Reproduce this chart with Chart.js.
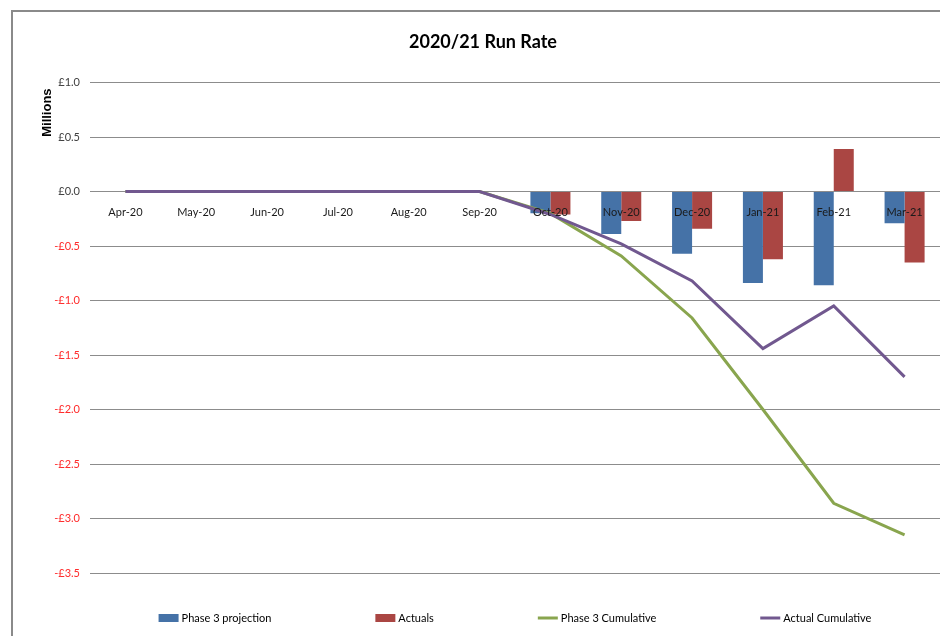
<!DOCTYPE html>
<html>
<head>
<meta charset="utf-8">
<title>2020/21 Run Rate</title>
<script src="https://cdn.jsdelivr.net/npm/chart.js@4/dist/chart.umd.min.js"></script>
<style>
  html, body { margin: 0; padding: 0; background: #fff; }
  #wrap { width: 940px; height: 636px; }
</style>
</head>
<body>
<div id="wrap"><canvas id="runRateChart" width="940" height="636"></canvas></div>
<script>
// Months of the financial year
const months = ['Apr-20', 'May-20', 'Jun-20', 'Jul-20', 'Aug-20', 'Sep-20',
                'Oct-20', 'Nov-20', 'Dec-20', 'Jan-21', 'Feb-21', 'Mar-21'];

// Monthly figures (£ millions)
const phase3Projection = [0, 0, 0, 0, 0, 0, -0.20, -0.39, -0.57, -0.84, -0.86, -0.29];
const actuals          = [0, 0, 0, 0, 0, 0, -0.21, -0.27, -0.34, -0.62, 0.39, -0.65];

// Running totals (£ millions)
const phase3Cumulative = [0, 0, 0, 0, 0, 0, -0.20, -0.59, -1.16, -2.00, -2.86, -3.15];
const actualCumulative = [0, 0, 0, 0, 0, 0, -0.21, -0.48, -0.82, -1.44, -1.05, -1.70];

// Y axis range
const yMin = -3.5;
const yMax = 1.0;
const yStep = 0.5;

const FONT = "Lato, 'Liberation Sans', sans-serif";

// Outer frame (only top and left edges are visible)
const framePlugin = {
  id: 'frame',
  beforeDraw(chart) {
    const ctx = chart.ctx;
    ctx.save();
    ctx.strokeStyle = '#8a8a8a';
    ctx.lineWidth = 2;
    ctx.beginPath();
    ctx.moveTo(12, chart.height);
    ctx.lineTo(12, 11);
    ctx.lineTo(chart.width, 11);
    ctx.stroke();
    ctx.restore();
  }
};

// "Millions" display-unit label next to the top of the value axis
const unitsPlugin = {
  id: 'units',
  afterDraw(chart) {
    const ctx = chart.ctx;
    const area = chart.chartArea;
    ctx.save();
    ctx.translate(area.left - 43, area.top + 30);
    ctx.rotate(-Math.PI / 2);
    ctx.font = "bold 13px 'Liberation Sans', Arial, sans-serif";
    ctx.fillStyle = '#000';
    ctx.textAlign = 'center';
    ctx.textBaseline = 'middle';
    ctx.fillText('Millions', 0, 0);
    ctx.restore();
  }
};

// Legend row under the plot, entries spread out like a spreadsheet legend
const legendRowPlugin = {
  id: 'legendRow',
  afterDraw(chart, args, opts) {
    const ctx = chart.ctx;
    const area = chart.chartArea;
    const gap = opts.gap;
    const swatch = 20;
    ctx.save();
    ctx.font = opts.font;
    ctx.textBaseline = 'middle';
    ctx.textAlign = 'left';
    const items = chart.data.datasets.map((ds) => ({
      ds,
      width: swatch + 3 + ctx.measureText(ds.label).width
    }));
    const total = items.reduce((s, it) => s + it.width, 0) + gap * (items.length - 1);
    let x = (area.left + area.right) / 2 - total / 2;
    const y = opts.y;
    items.forEach((it) => {
      if (it.ds.type === 'line') {
        ctx.strokeStyle = it.ds.borderColor;
        ctx.lineWidth = 3;
        ctx.beginPath();
        ctx.moveTo(x, y);
        ctx.lineTo(x + swatch, y);
        ctx.stroke();
      } else {
        ctx.fillStyle = it.ds.backgroundColor;
        ctx.fillRect(x, y - 4, swatch, 8);
      }
      ctx.fillStyle = '#000';
      ctx.fillText(it.ds.label, x + swatch + 3, y);
      x += it.width + gap;
    });
    ctx.restore();
  }
};

const runRateData = {
  labels: months,
  datasets: [
    {
      type: 'bar',
      label: 'Phase 3 projection',
      data: phase3Projection,
      backgroundColor: '#4572A7',
      borderWidth: 0,
      categoryPercentage: 0.565,
      barPercentage: 1.0,
      order: 2
    },
    {
      type: 'bar',
      label: 'Actuals',
      data: actuals,
      backgroundColor: '#AA4643',
      borderWidth: 0,
      categoryPercentage: 0.565,
      barPercentage: 1.0,
      order: 3
    },
    {
      type: 'line',
      label: 'Phase 3 Cumulative',
      data: phase3Cumulative,
      borderColor: '#89A54E',
      backgroundColor: '#89A54E',
      borderWidth: 3,
      pointRadius: 0,
      tension: 0,
      order: 1
    },
    {
      type: 'line',
      label: 'Actual Cumulative',
      data: actualCumulative,
      borderColor: '#71588F',
      backgroundColor: '#71588F',
      borderWidth: 3,
      pointRadius: 0,
      tension: 0,
      order: 0
    }
  ]
};

const runRateConfig = {
  type: 'bar',
  data: runRateData,
  plugins: [framePlugin, unitsPlugin, legendRowPlugin],
  options: {
    responsive: false,
    animation: false,
    layout: {
      padding: { left: 26, right: 0, top: 0, bottom: 63 }
    },
    scales: {
      x: {
        type: 'category',
        position: { y: 0 },
        offset: true,
        grid: { display: false, drawTicks: false },
        border: { display: false },
        ticks: {
          z: 1, // month labels sit on top of the bars
          padding: 14,
          maxRotation: 0,
          autoSkip: false,
          color: '#1a1a1a',
          font: { family: FONT, size: 11 }
        }
      },
      y: {
        min: yMin,
        max: yMax,
        afterFit(scale) { scale.width = 64; },
        grid: { color: '#8c8c8c', lineWidth: 1, drawTicks: false },
        border: { display: false },
        ticks: {
          stepSize: yStep,
          padding: 10,
          font: { family: FONT, size: 11 },
          color: (c) => (c.tick.value < 0 ? '#ff2b2b' : '#404040'),
          callback: (v) => (v < 0 ? '-£' : '£') + Math.abs(v).toFixed(1)
        }
      }
    },
    plugins: {
      title: {
        display: true,
        text: '2020/21 Run Rate',
        color: '#000',
        font: { family: FONT, size: 18, weight: 'bold' },
        padding: { top: 31, bottom: 30 }
      },
      legend: { display: false },
      legendRow: { gap: 104, y: 618, font: "11px " + FONT },
      tooltip: { enabled: false }
    }
  }
};

// Render the chart
const runRateChart = new Chart(
  document.getElementById('runRateChart'),
  runRateConfig
);
</script>
</body>
</html>
